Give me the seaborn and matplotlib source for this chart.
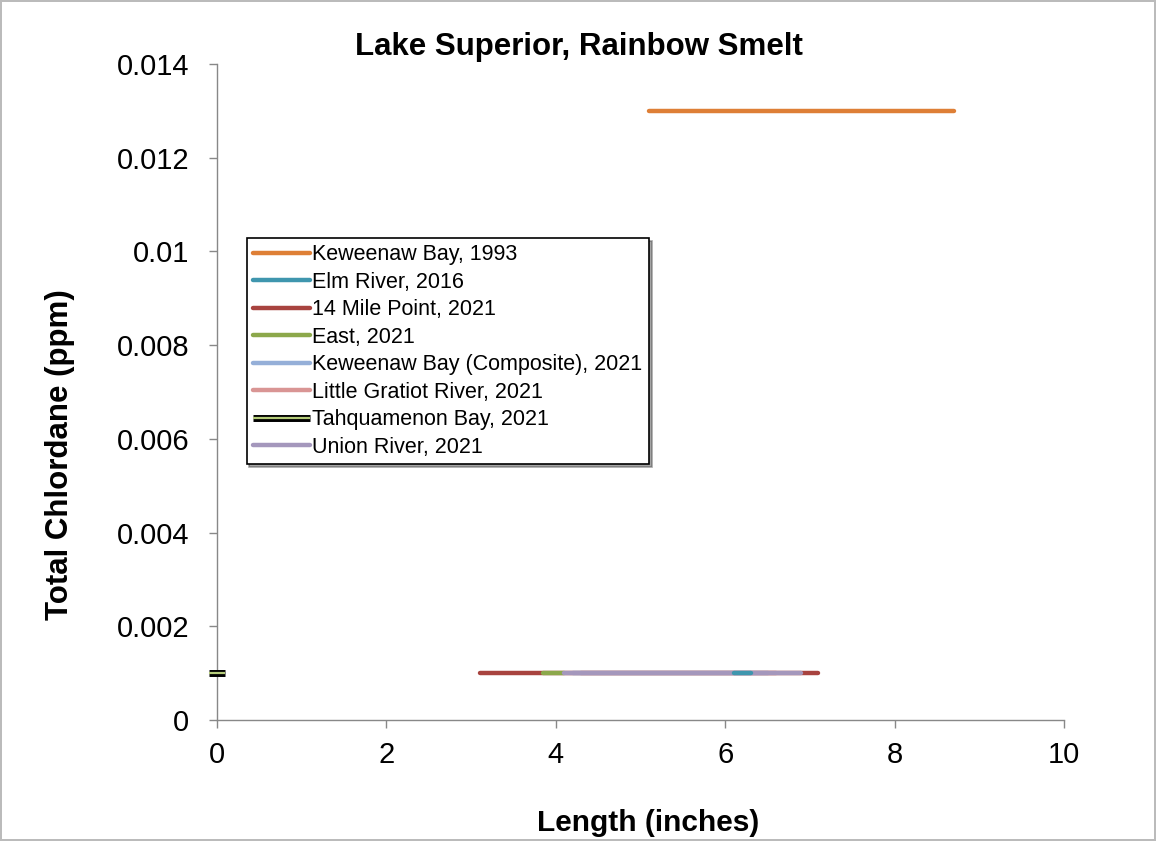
import numpy as np
import pandas as pd
import matplotlib
matplotlib.use("Agg")
import matplotlib.pyplot as plt
import matplotlib.patheffects as pe
import seaborn as sns

# series: name, x (length, inches), y (total chlordane, ppm)
series_names = [
    "Keweenaw Bay, 1993",
    "Elm River, 2016",
    "14 Mile Point, 2021",
    "East, 2021",
    "Keweenaw Bay (Composite), 2021",
    "Little Gratiot River, 2021",
    "Tahquamenon Bay, 2021",
    "Union River, 2021",
]
x_start = [5.1, 6.1, 3.1, 3.85, 4.2, 4.3, -0.1, 4.1]
x_end = [8.7, 6.3, 7.1, 4.1, 6.5, 6.6, 0.1, 6.9]
y_vals = [0.013, 0.001, 0.001, 0.001, 0.001, 0.001, 0.001, 0.001]
colors = ["#DE7F36", "#3F96AE", "#A8433F", "#8CA84B", "#95AFD8",
          "#D99594", "#B5CC7A", "#A497BC"]
x_ticks = [0, 2, 4, 6, 8, 10]
y_ticks = [0, 0.002, 0.004, 0.006, 0.008, 0.01, 0.012, 0.014]
y_ticklabels = ["0", "0.002", "0.004", "0.006", "0.008", "0.01", "0.012", "0.014"]

sns.set_style("white")
plt.rcParams["font.family"] = ["Liberation Sans", "DejaVu Sans"]

fig = plt.figure(figsize=(11.56, 8.41), dpi=100)
fig.patch.set_edgecolor("#BBBBBB")
fig.patch.set_linewidth(1.5)
ax = fig.add_axes([0.1877, 0.1439, 0.7327, 0.78])

zorders = [2, 6, 2, 3, 3, 3, 3, 4]
for i, name in enumerate(series_names):
    df = pd.DataFrame({"x": [x_start[i], x_end[i]], "y": [y_vals[i]] * 2})
    if name.startswith("Tahquamenon"):
        sns.lineplot(data=df, x="x", y="y", ax=ax, color=colors[i], lw=1.6,
                     label=name, zorder=zorders[i], solid_capstyle="butt",
                     clip_on=False,
                     path_effects=[pe.Stroke(linewidth=5, foreground="black"),
                                   pe.Normal()])
    else:
        sns.lineplot(data=df, x="x", y="y", ax=ax, color=colors[i], lw=3.2,
                     label=name, zorder=zorders[i], solid_capstyle="round",
                     clip_on=False)

ax.set_xlim(0, 10)
ax.set_ylim(0, 0.014)
ax.set_xlabel("")
ax.set_ylabel("")
ax.set_xticks(x_ticks)
ax.set_xticklabels([str(t) for t in x_ticks])
ax.set_yticks(y_ticks)
ax.set_yticklabels(y_ticklabels)
ax.tick_params(axis="both", labelsize=21, labelcolor="black", direction="out",
               length=6, width=1, color="#888888", left=True, bottom=True)
ax.tick_params(axis="y", pad=14)
ax.tick_params(axis="x", pad=9)
for s in ["top", "right"]:
    ax.spines[s].set_visible(False)
for s in ["left", "bottom"]:
    ax.spines[s].set_color("#888888")
    ax.spines[s].set_linewidth(1)

fig.text(0.561, 0.021, "Length (inches)", fontsize=21.5, fontweight="bold",
         ha="center", va="center", color="black")
fig.text(0.052, 0.46, "Total Chlordane (ppm)", fontsize=22.5, fontweight="bold",
         ha="center", va="center", rotation=90, color="black")
fig.text(0.501, 0.944, "Lake Superior, Rainbow Smelt", fontsize=22.5,
         fontweight="bold", ha="center", va="center", color="black")

leg = ax.legend(loc="upper left", bbox_to_anchor=(0.035, 0.735), borderaxespad=0,
                fontsize=15.5, frameon=True, fancybox=False, shadow=True,
                handlelength=2.65, handletextpad=0.1, labelspacing=0.3,
                borderpad=0.3, edgecolor="black", framealpha=1)
leg.get_frame().set_linewidth(1.2)
for t in leg.get_texts():
    t.set_color("black")

fig.savefig("out.png", dpi=100)
